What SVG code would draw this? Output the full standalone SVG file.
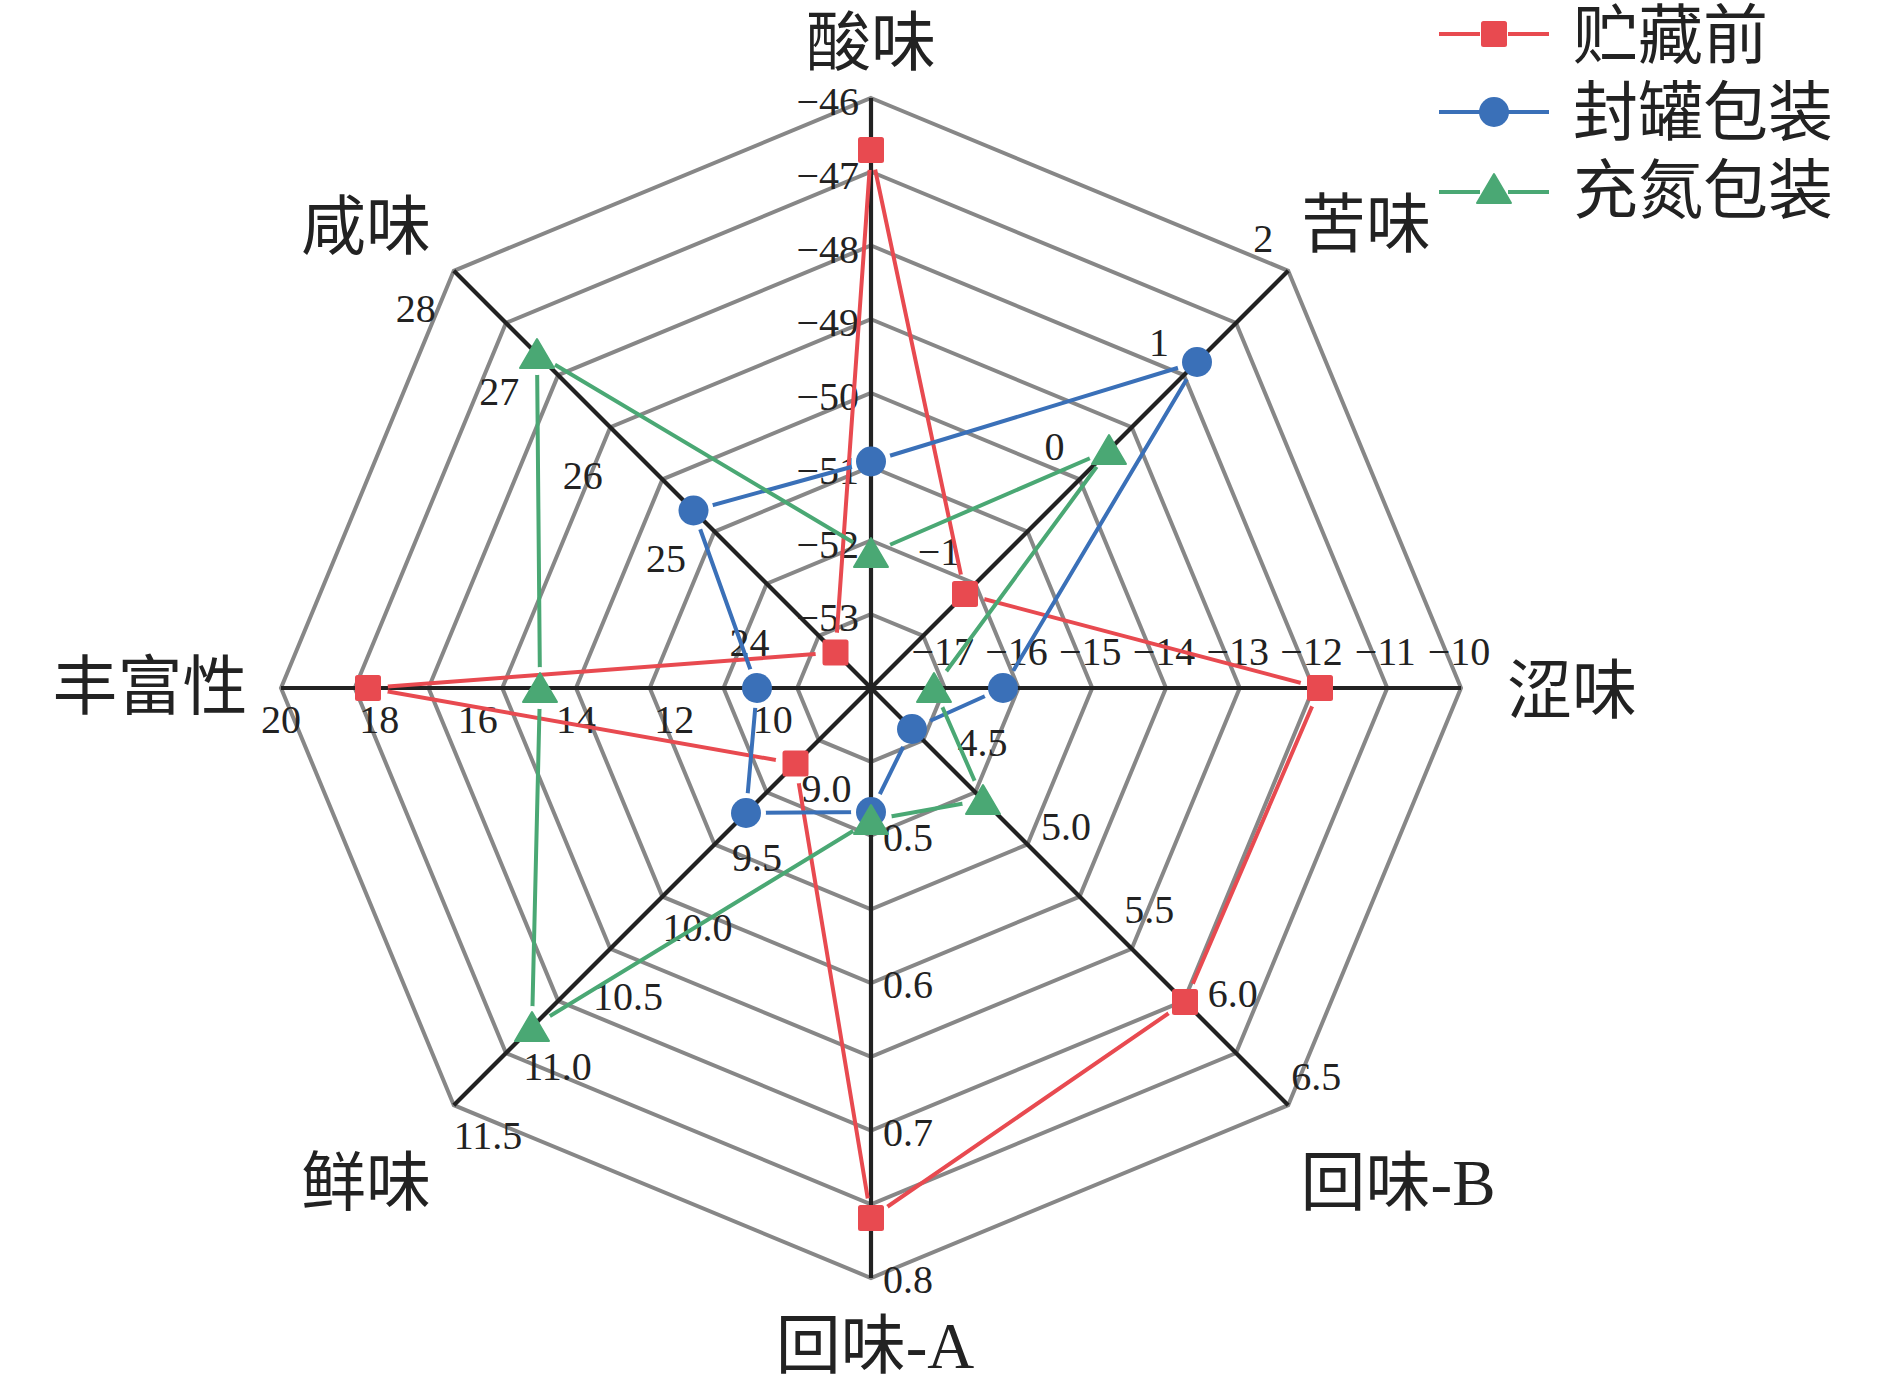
<svg xmlns="http://www.w3.org/2000/svg" width="1890" height="1387" viewBox="0 0 1890 1387">
<style>
.ring{fill:none;stroke:#878787;stroke-width:4;stroke-linejoin:miter}
.axis{stroke:#222;stroke-width:4.2}
.tick{font-family:"Liberation Serif","Noto Sans CJK SC",serif;font-size:40px;fill:#222}
.end{text-anchor:end}.mid{text-anchor:middle}.start{text-anchor:start}
.title{font-family:"Liberation Serif","Noto Sans CJK SC",serif;font-size:65px;fill:#222;text-anchor:middle}
.leg{font-family:"Liberation Serif","Noto Sans CJK SC",serif;font-size:65px;fill:#222}
.red{fill:none;stroke:#E84A50;stroke-width:4;stroke-linejoin:round}
.blue{fill:none;stroke:#3A70B8;stroke-width:4;stroke-linejoin:round}
.green{fill:none;stroke:#4AA874;stroke-width:4;stroke-linejoin:round}
.mred{fill:#E84A50}
.mblue{fill:#3A70B8}
.mgreen{fill:#4AA874;stroke:#4AA874;stroke-width:2;stroke-linejoin:round}
</style>
<defs>
<rect id="sq" x="-13" y="-13" width="26" height="26" rx="2.5"/>
<circle id="ci" r="15"/>
<polygon id="tr" points="0,-15 17,14 -17,14"/>
<mask id="mkR" maskUnits="userSpaceOnUse" x="0" y="0" width="1890" height="1387">
<rect width="1890" height="1387" fill="#fff"/>
<g fill="#000"><circle cx="871" cy="150" r="20"/><circle cx="965" cy="594" r="20"/><circle cx="1320" cy="688" r="20"/><circle cx="1185" cy="1002" r="20"/><circle cx="871" cy="1218" r="20"/><circle cx="795.5" cy="763.5" r="20"/><circle cx="368" cy="688" r="20"/><circle cx="835.5" cy="652.5" r="20"/></g>
</mask>
<mask id="mkB" maskUnits="userSpaceOnUse" x="0" y="0" width="1890" height="1387">
<rect width="1890" height="1387" fill="#fff"/>
<g fill="#000"><circle cx="871" cy="461.5" r="20"/><circle cx="1197" cy="362" r="20"/><circle cx="1003" cy="688" r="20"/><circle cx="912" cy="729" r="20"/><circle cx="871" cy="812" r="20"/><circle cx="746" cy="813" r="20"/><circle cx="757" cy="688" r="20"/><circle cx="693.5" cy="510.5" r="20"/></g>
</mask>
<mask id="mkG" maskUnits="userSpaceOnUse" x="0" y="0" width="1890" height="1387">
<rect width="1890" height="1387" fill="#fff"/>
<g fill="#000"><circle cx="871" cy="553" r="21"/><circle cx="1109" cy="450" r="21"/><circle cx="934" cy="688" r="21"/><circle cx="983" cy="800" r="21"/><circle cx="871" cy="820" r="21"/><circle cx="532" cy="1027" r="21"/><circle cx="540" cy="688" r="21"/><circle cx="537" cy="354" r="21"/></g>
</mask>
</defs>
<rect width="1890" height="1387" fill="#fff"/>

<g id="grid">
<polygon class="ring" points="871,614.25 923.15,635.85 944.75,688 923.15,740.15 871,761.75 818.85,740.15 797.25,688 818.85,635.85"/>
<polygon class="ring" points="871,540.5 975.3,583.7 1018.5,688 975.3,792.3 871,835.5 766.7,792.3 723.5,688 766.7,583.7"/>
<polygon class="ring" points="871,466.75 1027.45,531.55 1092.25,688 1027.45,844.45 871,909.25 714.55,844.45 649.75,688 714.55,531.55"/>
<polygon class="ring" points="871,393 1079.6,479.4 1166,688 1079.6,896.6 871,983 662.4,896.6 576,688 662.4,479.4"/>
<polygon class="ring" points="871,319.25 1131.74,427.26 1239.75,688 1131.74,948.74 871,1056.75 610.26,948.74 502.25,688 610.26,427.26"/>
<polygon class="ring" points="871,245.5 1183.89,375.11 1313.5,688 1183.89,1000.89 871,1130.5 558.11,1000.89 428.5,688 558.11,375.11"/>
<polygon class="ring" points="871,171.75 1236.04,322.96 1387.25,688 1236.04,1053.04 871,1204.25 505.96,1053.04 354.75,688 505.96,322.96"/>
<polygon class="ring" points="871,98 1288.19,270.81 1461,688 1288.19,1105.19 871,1278 453.81,1105.19 281,688 453.81,270.81"/>
</g>

<g id="axes">
<line class="axis" x1="871" y1="688" x2="871" y2="98"/>
<line class="axis" x1="871" y1="688" x2="1288.19" y2="270.81"/>
<line class="axis" x1="871" y1="688" x2="1461" y2="688"/>
<line class="axis" x1="871" y1="688" x2="1288.19" y2="1105.19"/>
<line class="axis" x1="871" y1="688" x2="871" y2="1278"/>
<line class="axis" x1="871" y1="688" x2="453.81" y2="1105.19"/>
<line class="axis" x1="871" y1="688" x2="281" y2="688"/>
<line class="axis" x1="871" y1="688" x2="453.81" y2="270.81"/>
</g>

<g id="axis-suan">
<text class="title" x="871" y="65">酸味</text>
<g class="tick end">
<text x="859" y="631.25">−53</text><text x="859" y="557.5">−52</text><text x="859" y="483.75">−51</text><text x="859" y="410">−50</text>
<text x="859" y="336.25">−49</text><text x="859" y="262.5">−48</text><text x="859" y="188.75">−47</text><text x="859" y="115">−46</text>
</g>
</g>
<g id="axis-ku">
<text class="title" x="1366" y="247">苦味</text>
<g class="tick end">
<text x="960.3" y="564.7">−1</text><text x="1064.6" y="460.4">0</text><text x="1168.9" y="356.1">1</text><text x="1273.2" y="251.8">2</text>
</g>
</g>
<g id="axis-se">
<text class="title" x="1572" y="713">涩味</text>
<g class="tick mid">
<text x="942.75" y="665">−17</text><text x="1016.5" y="665">−16</text><text x="1090.25" y="665">−15</text><text x="1164" y="665">−14</text>
<text x="1237.75" y="665">−13</text><text x="1311.5" y="665">−12</text><text x="1385.25" y="665">−11</text><text x="1459" y="665">−10</text>
</g>
</g>
<g id="axis-huiB">
<text class="title" x="1398" y="1205">回味-B</text>
<g class="tick start">
<text x="957.4" y="756.4">4.5</text><text x="1040.9" y="839.9">5.0</text><text x="1124.3" y="923.3">5.5</text><text x="1207.8" y="1006.8">6.0</text><text x="1291.2" y="1090.2">6.5</text>
</g>
</g>
<g id="axis-huiA">
<text class="title" x="875" y="1368">回味-A</text>
<g class="tick start">
<text x="883" y="850.5">0.5</text><text x="883" y="998">0.6</text><text x="883" y="1145.5">0.7</text><text x="883" y="1293">0.8</text>
</g>
</g>
<g id="axis-xian">
<text class="title" x="366" y="1205">鲜味</text>
<g class="tick start">
<text x="801.5" y="801.5">9.0</text><text x="731.9" y="871.1">9.5</text><text x="662.4" y="940.6">10.0</text><text x="592.9" y="1010.1">10.5</text><text x="523.3" y="1079.7">11.0</text><text x="453.8" y="1149.2">11.5</text>
</g>
</g>
<g id="axis-feng">
<text class="title" x="150" y="709">丰富性</text>
<g class="tick mid">
<text x="772.7" y="733">10</text><text x="674.3" y="733">12</text><text x="576" y="733">14</text><text x="477.7" y="733">16</text><text x="379.3" y="733">18</text><text x="281" y="733">20</text>
</g>
</g>
<g id="axis-xianwei">
<text class="title" x="366" y="249">咸味</text>
<g class="tick end">
<text x="769.6" y="655.6">24</text><text x="686.1" y="572.1">25</text><text x="602.7" y="488.7">26</text><text x="519.3" y="405.3">27</text><text x="435.8" y="321.8">28</text>
</g>
</g>

<g id="connectors">
<polygon class="red" mask="url(#mkR)" points="871,150 965,594 1320,688 1185,1002 871,1218 795.5,763.5 368,688 835.5,652.5"/>
<polygon class="blue" mask="url(#mkB)" points="871,461.5 1197,362 1003,688 912,729 871,812 746,813 757,688 693.5,510.5"/>
<polygon class="green" mask="url(#mkG)" points="871,553 1109,450 934,688 983,800 871,820 532,1027 540,688 537,354"/>
</g>

<g id="series-before" class="mred">
<use href="#sq" x="871" y="150"/><use href="#sq" x="965" y="594"/><use href="#sq" x="1320" y="688"/><use href="#sq" x="1185" y="1002"/>
<use href="#sq" x="871" y="1218"/><use href="#sq" x="795.5" y="763.5"/><use href="#sq" x="368" y="688"/><use href="#sq" x="835.5" y="652.5"/>
</g>
<g id="series-can" class="mblue">
<use href="#ci" x="871" y="461.5"/><use href="#ci" x="1197" y="362"/><use href="#ci" x="1003" y="688"/><use href="#ci" x="912" y="729"/>
<use href="#ci" x="871" y="812"/><use href="#ci" x="746" y="813"/><use href="#ci" x="757" y="688"/><use href="#ci" x="693.5" y="510.5"/>
</g>
<g id="series-n2" class="mgreen">
<use href="#tr" x="871" y="553"/><use href="#tr" x="1109" y="450"/><use href="#tr" x="934" y="688"/><use href="#tr" x="983" y="800"/>
<use href="#tr" x="871" y="820"/><use href="#tr" x="532" y="1027"/><use href="#tr" x="540" y="688"/><use href="#tr" x="537" y="354"/>
</g>

<g id="legend">
<g id="legend-before">
<line class="red" x1="1439" y1="34" x2="1480" y2="34"/><line class="red" x1="1508" y1="34" x2="1549" y2="34"/>
<use href="#sq" x="1494" y="34" class="mred"/>
<text class="leg" x="1573" y="58">贮藏前</text>
</g>
<g id="legend-can">
<line class="blue" x1="1439" y1="112" x2="1480" y2="112"/><line class="blue" x1="1508" y1="112" x2="1549" y2="112"/>
<use href="#ci" x="1494" y="112" class="mblue"/>
<text class="leg" x="1573" y="135">封罐包装</text>
</g>
<g id="legend-n2">
<line class="green" x1="1439" y1="192" x2="1480" y2="192"/><line class="green" x1="1508" y1="192" x2="1549" y2="192"/>
<use href="#tr" x="1494" y="189" class="mgreen"/>
<text class="leg" x="1573" y="213">充氮包装</text>
</g>
</g>
</svg>
